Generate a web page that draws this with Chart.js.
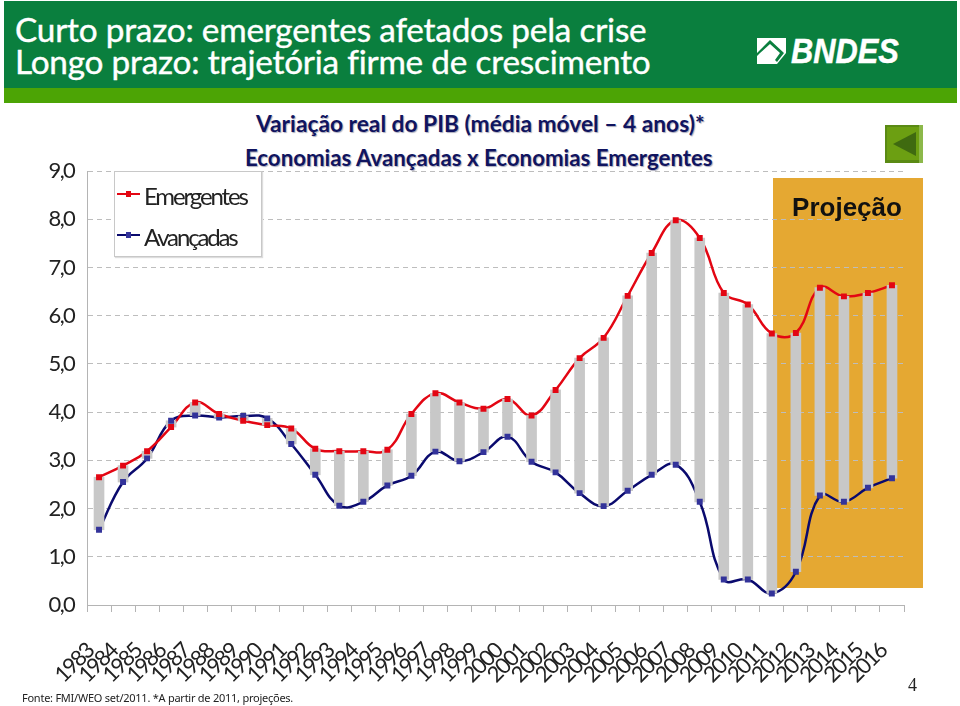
<!DOCTYPE html>
<html>
<head>
<meta charset="utf-8">
<script src="https://cdn.jsdelivr.net/npm/chart.js@4"></script>
<style>
html, body { margin: 0; padding: 0; background: #fff; }
#page { position: relative; width: 960px; height: 706px; overflow: hidden; font-family: Lato, sans-serif; }
#page > div, #page > svg { position: absolute; white-space: nowrap; }
#topBar { left: 4px; top: 1px; width: 953px; height: 87px; background: #0a7f3e; }
#topStrip { left: 4px; top: 88px; width: 953px; height: 15px; background: #4ca405; }
.headline { left: 15px; color: #fff; font-size: 33.3px; line-height: 36px; letter-spacing: -0.2px; -webkit-text-stroke: 0.4px #fff; }
.subhead { color: #10145f; font-weight: bold; line-height: 24px; text-shadow: 1px 1px 1px #aab; }
#logoText { left: 791px; top: 31px; color: #fff; font: italic bold 35px/40px "Liberation Sans", sans-serif; transform: scaleX(0.88); transform-origin: left; -webkit-text-stroke: 0.5px #fff; }
#projecao { left: 773px; top: 178px; width: 150px; height: 410px; background: #e5a832; }
#projLabel { left: 772px; top: 193px; width: 150px; text-align: center; font: bold 26px/28px "Liberation Sans", sans-serif; color: #111; z-index: 3; }
canvas { position: absolute; left: 0; top: 0; z-index: 2; }
#legendBox { left: 114px; top: 171px; width: 146px; height: 84px; background: #fff; border: 1px solid #c8c8c8; box-shadow: 1px 1px 1px #ddd; z-index: 3; }
.legendItem { position: absolute; left: 29px; font-size: 24px; line-height: 26px; letter-spacing: -2.15px; color: #222; }
.legendLine { position: absolute; left: 2px; width: 23px; height: 2px; }
.legendLine i { position: absolute; left: 9px; top: -2px; width: 5px; height: 6px; }
#source { left: 22px; top: 691px; font: 11px/14px "Noto Sans", sans-serif; letter-spacing: -0.25px; color: #222; z-index: 3; }
#pageNum { left: 908px; top: 674px; font: 18px/22px "Liberation Serif", serif; color: #222; z-index: 3; }
</style>
</head>
<body>
<div id="page">
  <div id="topBar"></div>
  <div id="topStrip"></div>
  <div class="headline" style="top:11px">Curto prazo: emergentes afetados pela crise</div>
  <div class="headline" style="top:43px">Longo prazo: trajetória firme de crescimento</div>
  <svg style="left:757px;top:38px" width="29" height="26" viewBox="0 0 29 26">
    <path d="M0 0H29V26H0Z" fill="#fff"/>
    <path d="M0 15L13 2L27 15L20 24L18 22L23 15L13 6L3 15L0 18Z" fill="#0a7f3e"/>
    <path d="M20 26L29 15V26Z" fill="#0a7f3e"/>
  </svg>
  <div id="logoText">BNDES</div>
  <div class="subhead" style="left:256px;top:112px;font-size:22.75px">Variação real do PIB (média móvel – 4 anos)*</div>
  <div class="subhead" style="left:245px;top:146px;font-size:22.25px">Economias Avançadas x Economias Emergentes</div>
  <svg style="left:885px;top:125px" width="38" height="38" viewBox="0 0 38 38">
    <rect width="38" height="38" fill="#5a8a14"/>
    <rect x="34" y="0" width="4" height="38" fill="#8cb84a"/>
    <rect x="2" y="2" width="32" height="33" fill="#6c9f12"/>
    <path d="M8 19L31 7V31Z" fill="#3f6a10"/>
  </svg>
  <div id="projecao"></div>
  <div id="projLabel">Projeção</div>
  <canvas id="gdpChart" width="960" height="706"></canvas>
  <div id="legendBox">
    <div class="legendLine" style="top:21px;background:#e30613"><i style="background:#e30613"></i></div>
    <div class="legendItem" style="top:11px">Emergentes</div>
    <div class="legendLine" style="top:62px;background:#0a0a6e"><i style="background:#33339a"></i></div>
    <div class="legendItem" style="top:52px">Avançadas</div>
  </div>
  <div id="source">Fonte: FMI/WEO set/2011. *A partir de 2011, projeções.</div>
  <div id="pageNum">4</div>
</div>
<script>
const anos = ['1983','1984','1985','1986','1987','1988','1989','1990','1991','1992','1993','1994','1995','1996','1997','1998','1999',
    '2000','2001','2002','2003','2004','2005','2006','2007','2008','2009','2010','2011','2012','2013','2014','2015','2016']
const emergentes = [2.65,2.89,3.19,3.69,4.20,3.96,3.82,3.73,3.66,3.24,3.19,3.19,3.22,3.96,4.39,4.20,4.07,
    4.27,3.93,4.46,5.12,5.54,6.41,7.30,7.98,7.61,6.47,6.23,5.63,5.64,6.58,6.40,6.47,6.63]
const avancadas = [1.56,2.55,3.04,3.82,3.93,3.89,3.92,3.87,3.34,2.70,2.06,2.14,2.48,2.68,3.18,2.98,3.17,
    3.49,2.97,2.75,2.32,2.05,2.37,2.70,2.91,2.14,0.53,0.53,0.24,0.69,2.27,2.14,2.43,2.63]

const RED = '#e30613'
const NAVY = '#0a0a6e'

// letter spacing for the tight axis labels of the original
const tightText = {
    id: 'tightText',
    beforeDraw: (chart) => { chart.ctx.letterSpacing = '-1.7px' }
}

const ctx = document.getElementById('gdpChart')
const myChart = new Chart(ctx, {
    data: {
        labels: anos,
        datasets: [
            // markers sit on top of the grey bars, the lines go under them
            { type: 'line', label: 'Emergentes', data: emergentes, order: 0, showLine: false,
              pointStyle: 'rect', pointRadius: 4.2, pointBackgroundColor: RED, pointBorderWidth: 0 },
            { type: 'line', label: 'Avançadas', data: avancadas, order: 0, showLine: false,
              pointStyle: 'rect', pointRadius: 4.2, pointBackgroundColor: '#33339a', pointBorderWidth: 0 },
            { type: 'bar', label: 'Diferença', data: anos.map((a, i) => [avancadas[i], emergentes[i]]), order: 1,
              backgroundColor: '#c8c8c8', barThickness: 10 },
            { type: 'line', label: 'Emergentes', data: emergentes, order: 2, borderColor: RED, borderWidth: 2.5,
              tension: 0.42, pointRadius: 0 },
            { type: 'line', label: 'Avançadas', data: avancadas, order: 2, borderColor: NAVY, borderWidth: 2.5,
              tension: 0.42, pointRadius: 0 }
        ]
    },
    options: {
        responsive: false,
        animation: false,
        layout: { padding: { top: 171, right: 56, left: 0, bottom: 0 } },
        plugins: { legend: { display: false }, tooltip: { enabled: false } },
        scales: {
            x: {
                afterFit: (scale) => { scale.height = 101 },
                border: { color: '#b4b4b4' },
                grid: { drawOnChartArea: false, tickLength: 7, color: '#b4b4b4' },
                ticks: { autoSkip: false, minRotation: 45, maxRotation: 45, padding: 26, labelOffset: -9,
                    color: '#222', font: { family: 'Lato', size: 22 } }
            },
            y: {
                min: 0,
                max: 9,
                afterFit: (scale) => { scale.width = 87 },
                border: { color: '#b4b4b4', dash: [5, 4] },
                grid: { drawTicks: false, color: '#bdbdbd', lineWidth: 1 },
                ticks: { stepSize: 1, padding: 13, color: '#222', font: { family: 'Lato', size: 22 },
                    callback: (v) => v.toFixed(1).replace('.', ',') }
            }
        }
    },
    plugins: [tightText]
})
</script>
</body>
</html>
